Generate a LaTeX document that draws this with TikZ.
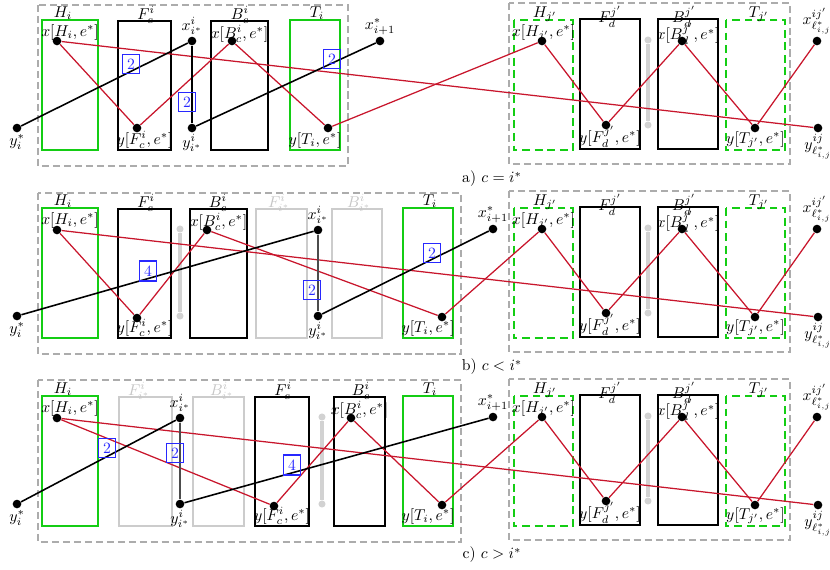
\documentclass[tikz,border=0pt]{standalone}
\usepackage{amsmath}
\usepackage{amssymb}
\usetikzlibrary{positioning}
\definecolor{lnred}{RGB}{200,22,44}
\definecolor{bxgreen}{RGB}{20,205,20}
\definecolor{wtblue}{RGB}{40,40,255}

\begin{document}
\begin{tikzpicture}[x=0.637pt, y=-0.637pt,
  frame/.style={draw=gray!65, line width=0.8pt, dash pattern=on 4.5pt off 2.5pt},
  gbox/.style={draw=bxgreen, line width=1pt},
  gdbox/.style={draw=bxgreen, line width=1pt, dash pattern=on 5pt off 3pt},
  kbox/.style={draw=black, line width=1pt},
  fbox/.style={draw=gray!40, line width=1pt},
  ttl/.style={anchor=north, inner sep=0pt},
  fttl/.style={ttl, text=gray!45},
  toplbl/.style={anchor=north, inner sep=2.5pt},
  botlbl/.style={anchor=south, inner sep=1pt},
  vtx/.style={circle, fill=black, inner sep=0pt, minimum size=5.5pt},
  gvtx/.style={circle, fill=gray!35, inner sep=0pt, minimum size=4.5pt},
  lbl/.style={inner sep=1pt},
  wt/.style={rectangle, draw=wtblue, text=wtblue, inner sep=3pt, line width=0.7pt},
  rline/.style={draw=lnred, line width=0.8pt},
  kline/.style={draw=black, line width=1pt},
  gline/.style={draw=gray!35, line width=2pt}
]
\useasboundingbox (0,0) rectangle (830,569);

% a) c = i*
\begin{scope}
\draw[frame] (38,5) rectangle (348,166);
\draw[gbox] (42,20) rectangle (98,150);
\draw[kbox] (118,21) rectangle (171,150);
\draw[kbox] (211,21) rectangle (268,150);
\draw[gbox] (290,20) rectangle (340,150);
\node[ttl] (aHiT) at (63,6) {$H_i$};
\node[ttl] (aFcT) at (146,6) {$F^i_c$};
\node[ttl] (aBcT) at (240,6) {$B^i_c$};
\node[ttl] (aTiT) at (317,6) {$T_i$};
\node[toplbl] (axHl) at (70,20) {$x[H_i,e^*]$};
\node[botlbl] (ayFl) at (144.5,150) {$y[F^i_c,e^*]$};
\node[toplbl] (axBl) at (239.5,21) {$x[B^i_c,e^*]$};
\node[botlbl] (ayTl) at (315,150) {$y[T_i,e^*]$};
\node[vtx] (axH) at (57,41) {};
\node[vtx] (ayF) at (137,128) {};
\node[vtx] (axB) at (232,41) {};
\node[vtx] (ayT) at (328,128) {};
\node[vtx] (aystar) at (17,128) {};
\node[vtx] (axis) at (192,41) {};
\node[vtx] (ayis) at (192,128) {};
\node[vtx] (axnext) at (380,41) {};
\node[lbl, below=0pt of aystar] (aystarl) {$y^*_i$};
\node[lbl, above=0pt of axis] (axisl) {$x^i_{i^*}$};
\node[lbl, below=0pt of ayis] (ayisl) {$y^i_{i^*}$};
\node[lbl, above=0pt of axnext] (axnextl) {$x^*_{i+1}$};
% right part
\draw[frame] (509,3) rectangle (790,164);
\draw[gdbox] (514,20) rectangle (573,150);
\draw[kbox] (580,19) rectangle (640,149);
\draw[kbox] (658,19) rectangle (718,149);
\draw[gdbox] (726,20) rectangle (785,150);
\node[ttl] (aHjT) at (545,6) {$H_{j'}$};
\node[ttl] (aFdT) at (610,6) {$F^{j'}_d$};
\node[ttl] (aBdT) at (684,6) {$B^{j'}_d$};
\node[ttl] (aTjT) at (759,6) {$T_{j'}$};
\node[toplbl] (axHjl) at (543.5,20) {$x[H_{j'},e^*]$};
\node[botlbl] (ayFdl) at (610,149) {$y[F^{j'}_d,e^*]$};
\node[toplbl] (axBdl) at (688,19) {$x[B^{j'}_d,e^*]$};
\node[botlbl] (ayTjl) at (755.5,150) {$y[T_{j'},e^*]$};
\node[vtx] (axHj) at (542,41) {};
\node[vtx] (ayFd) at (606,125) {};
\node[vtx] (axBd) at (682,41) {};
\node[vtx] (ayTj) at (755,128) {};
\node[vtx] (axl) at (817,41) {};
\node[vtx] (ayl) at (818,128) {};
\node[lbl, above=0pt of axl] (axll) {$x^{ij'}_{\ell^*_{i,j}}$};
\node[lbl, below=0pt of ayl] (ayll) {$y^{ij}_{\ell^*_{i,j}}$};
\node[gvtx] (acapT) at (648,40) {};
\node[gvtx] (acapB) at (648,125) {};
\draw[gline] (acapT) -- (acapB);
% paths
\draw[rline] (axH) -- (ayF) -- (axB) -- (ayT) -- (axHj) -- (ayFd) -- (axBd) -- (ayTj) -- (axl);
\draw[rline] (axH) -- (ayl);
\draw[kline] (aystar) -- (axis);
\draw[kline] (axis) -- (ayis);
\draw[kline] (ayis) -- (axnext);
\node[wt] (aw1) at (131,64) {2};
\node[wt] (aw2) at (187,102) {2};
\node[wt] (aw3) at (332,59) {2};
\node (acap) at (492,179) {a) $c=i^*$};
\end{scope}

% b) c < i*
\begin{scope}[shift={(0,188)}]
\draw[frame] (38,5) rectangle (461,166);
\draw[gbox] (42,20) rectangle (98,150);
\draw[kbox] (118,21) rectangle (171,150);
\draw[kbox] (190,21) rectangle (247,150);
\draw[fbox] (256,21) rectangle (307,150);
\draw[fbox] (332,21) rectangle (382,150);
\draw[gbox] (403,20) rectangle (453,150);
\node[ttl] (bHiT) at (63,6) {$H_i$};
\node[ttl] (bFcT) at (146,6) {$F^i_c$};
\node[ttl] (bBcT) at (218,6) {$B^i_c$};
\node[fttl] (bFsT) at (279,6) {$F^i_{i^*}$};
\node[fttl] (bBsT) at (359,6) {$B^i_{i^*}$};
\node[ttl] (bTiT) at (430,6) {$T_i$};
\node[toplbl] (bxHl) at (70,20) {$x[H_i,e^*]$};
\node[botlbl] (byFl) at (144.5,150) {$y[F^i_c,e^*]$};
\node[toplbl] (bxBl) at (218.5,21) {$x[B^i_c,e^*]$};
\node[botlbl] (byTl) at (428,150) {$y[T_i,e^*]$};
\node[vtx] (bxH) at (57,42) {};
\node[vtx] (byF) at (137,130) {};
\node[vtx] (bxB) at (207,42) {};
\node[vtx] (byT) at (442,129) {};
\node[vtx] (bystar) at (17,128) {};
\node[vtx] (bxis) at (318,42) {};
\node[vtx] (byis) at (318,128) {};
\node[vtx] (bxnext) at (493,41) {};
\node[lbl, below=0pt of bystar] (bystarl) {$y^*_i$};
\node[lbl, above=0pt of bxis] (bxisl) {$x^i_{i^*}$};
\node[lbl, below=0pt of byis] (byisl) {$y^i_{i^*}$};
\node[lbl, above=0pt of bxnext] (bxnextl) {$x^*_{i+1}$};
\node[gvtx] (bcapLT) at (180,41) {};
\node[gvtx] (bcapLB) at (180,128) {};
\draw[gline] (bcapLT) -- (bcapLB);
% right part
\draw[frame] (509,3) rectangle (790,164);
\draw[gdbox] (514,20) rectangle (573,150);
\draw[kbox] (580,19) rectangle (640,149);
\draw[kbox] (658,19) rectangle (718,149);
\draw[gdbox] (726,20) rectangle (785,150);
\node[ttl] (bHjT) at (545,6) {$H_{j'}$};
\node[ttl] (bFdT) at (610,6) {$F^{j'}_d$};
\node[ttl] (bBdT) at (684,6) {$B^{j'}_d$};
\node[ttl] (bTjT) at (759,6) {$T_{j'}$};
\node[toplbl] (bxHjl) at (543.5,20) {$x[H_{j'},e^*]$};
\node[botlbl] (byFdl) at (610,149) {$y[F^{j'}_d,e^*]$};
\node[toplbl] (bxBdl) at (688,19) {$x[B^{j'}_d,e^*]$};
\node[botlbl] (byTjl) at (755.5,150) {$y[T_{j'},e^*]$};
\node[vtx] (bxHj) at (542,41) {};
\node[vtx] (byFd) at (606,125) {};
\node[vtx] (bxBd) at (682,41) {};
\node[vtx] (byTj) at (755,129) {};
\node[vtx] (bxl) at (817,41) {};
\node[vtx] (byl) at (818,129) {};
\node[lbl, above=0pt of bxl] (bxll) {$x^{ij'}_{\ell^*_{i,j}}$};
\node[lbl, below=0pt of byl] (byll) {$y^{ij}_{\ell^*_{i,j}}$};
\node[gvtx] (bcapT) at (648,40) {};
\node[gvtx] (bcapB) at (648,125) {};
\draw[gline] (bcapT) -- (bcapB);
% paths
\draw[rline] (bxH) -- (byF) -- (bxB) -- (byT) -- (bxHj) -- (byFd) -- (bxBd) -- (byTj) -- (bxl);
\draw[rline] (bxH) -- (byl);
\draw[kline] (bystar) -- (bxis);
\draw[kline, draw=black!70] (bxis) -- (byis);
\draw[kline] (byis) -- (bxnext);
\node[wt] (bw1) at (148,83) {4};
\node[wt] (bw2) at (312,102) {2};
\node[wt] (bw3) at (432,65) {2};
\node (bcap) at (492,179) {b) $c<i^*$};
\end{scope}

% c) c > i*
\begin{scope}[shift={(0,376)}]
\draw[frame] (38,4) rectangle (461,166);
\draw[gbox] (42,20) rectangle (98,150);
\draw[fbox] (119,21) rectangle (172,150);
\draw[fbox] (193,21) rectangle (244,150);
\draw[kbox] (255,21) rectangle (309,150);
\draw[kbox] (334,21) rectangle (385,150);
\draw[gbox] (403,20) rectangle (453,150);
\node[ttl] (cHiT) at (63,6) {$H_i$};
\node[fttl] (cFsT) at (139,6) {$F^i_{i^*}$};
\node[fttl] (cBsT) at (222,6) {$B^i_{i^*}$};
\node[ttl] (cFcT) at (283,6) {$F^i_c$};
\node[ttl] (cBcT) at (361,6) {$B^i_c$};
\node[ttl] (cTiT) at (430,6) {$T_i$};
\node[toplbl] (cxHl) at (70,20) {$x[H_i,e^*]$};
\node[botlbl] (cyFl) at (282,150) {$y[F^i_c,e^*]$};
\node[toplbl] (cxBl) at (359.5,21) {$x[B^i_c,e^*]$};
\node[botlbl] (cyTl) at (428,150) {$y[T_i,e^*]$};
\node[vtx] (cxH) at (57,42) {};
\node[vtx] (cyF) at (274,130) {};
\node[vtx] (cxB) at (351,42) {};
\node[vtx] (cyT) at (442,129) {};
\node[vtx] (cystar) at (17,128) {};
\node[vtx] (cxis) at (180,42) {};
\node[vtx] (cyis) at (180,128) {};
\node[vtx] (cxnext) at (493,41) {};
\node[lbl, below=0pt of cystar] (cystarl) {$y^*_i$};
\node[lbl, above=0pt of cxis] (cxisl) {$x^i_{i^*}$};
\node[lbl, below=0pt of cyis] (cyisl) {$y^i_{i^*}$};
\node[lbl, above=0pt of cxnext] (cxnextl) {$x^*_{i+1}$};
\node[gvtx] (ccapLT) at (322,41) {};
\node[gvtx] (ccapLB) at (322,128) {};
\draw[gline] (ccapLT) -- (ccapLB);
% right part
\draw[frame] (509,3) rectangle (790,164);
\draw[gdbox] (514,20) rectangle (573,150);
\draw[kbox] (580,19) rectangle (640,149);
\draw[kbox] (658,19) rectangle (718,149);
\draw[gdbox] (726,20) rectangle (785,150);
\node[ttl] (cHjT) at (545,6) {$H_{j'}$};
\node[ttl] (cFdT) at (610,6) {$F^{j'}_d$};
\node[ttl] (cBdT) at (684,6) {$B^{j'}_d$};
\node[ttl] (cTjT) at (759,6) {$T_{j'}$};
\node[toplbl] (cxHjl) at (543.5,20) {$x[H_{j'},e^*]$};
\node[botlbl] (cyFdl) at (610,149) {$y[F^{j'}_d,e^*]$};
\node[toplbl] (cxBdl) at (688,19) {$x[B^{j'}_d,e^*]$};
\node[botlbl] (cyTjl) at (755.5,150) {$y[T_{j'},e^*]$};
\node[vtx] (cxHj) at (542,41) {};
\node[vtx] (cyFd) at (606,125) {};
\node[vtx] (cxBd) at (682,41) {};
\node[vtx] (cyTj) at (755,129) {};
\node[vtx] (cxl) at (817,41) {};
\node[vtx] (cyl) at (818,129) {};
\node[lbl, above=0pt of cxl] (cxll) {$x^{ij'}_{\ell^*_{i,j}}$};
\node[lbl, below=0pt of cyl] (cyll) {$y^{ij}_{\ell^*_{i,j}}$};
\node[gvtx] (ccapT) at (648,40) {};
\node[gvtx] (ccapB) at (648,125) {};
\draw[gline] (ccapT) -- (ccapB);
% paths
\draw[rline] (cxH) -- (cyF) -- (cxB) -- (cyT) -- (cxHj) -- (cyFd) -- (cxBd) -- (cyTj) -- (cxl);
\draw[rline] (cxH) -- (cyl);
\draw[kline] (cystar) -- (cxis);
\draw[kline, draw=black!70] (cxis) -- (cyis);
\draw[kline] (cyis) -- (cxnext);
\node[wt] (cw1) at (107,72) {2};
\node[wt] (cw2) at (175,77) {2};
\node[wt] (cw3) at (292,89) {4};
\node (ccap) at (492,179) {c) $c>i^*$};
\end{scope}
\end{tikzpicture}
\end{document}
